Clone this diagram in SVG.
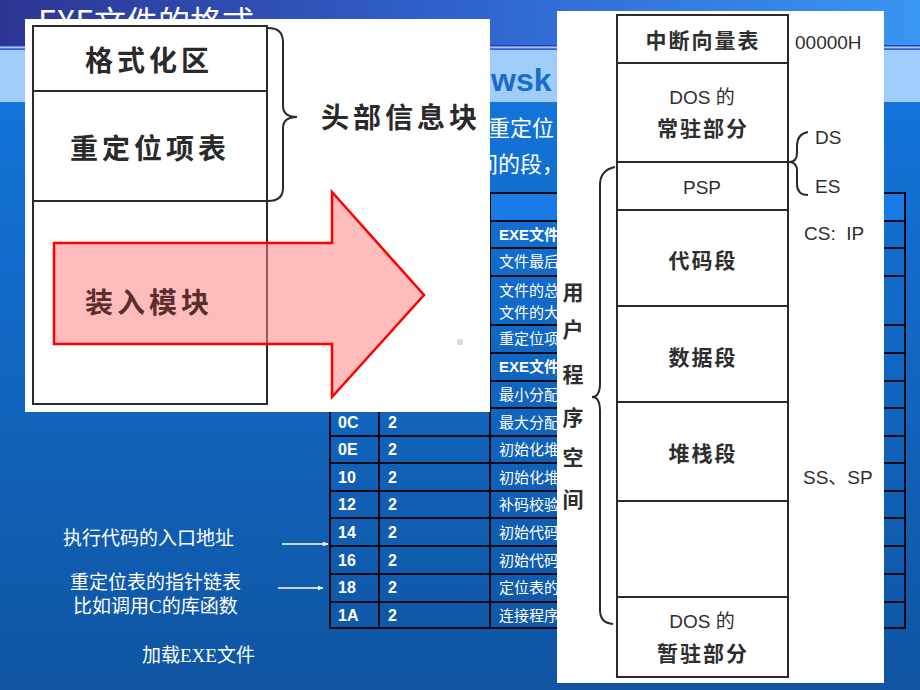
<svg xmlns="http://www.w3.org/2000/svg" width="920" height="690" viewBox="0 0 920 690">
<defs>
<linearGradient id="gTop" x1="0" y1="0" x2="1" y2="0">
<stop offset="0" stop-color="#2d3592"/>
<stop offset="0.5" stop-color="#3063cf"/>
<stop offset="1" stop-color="#3996f0"/>
</linearGradient>
<linearGradient id="gMain" x1="0" y1="0" x2="0" y2="1">
<stop offset="0" stop-color="#1479e3"/>
<stop offset="1" stop-color="#0f55a2"/>
</linearGradient>
<marker id="ah" viewBox="0 0 10 10" refX="9" refY="5" markerWidth="6" markerHeight="6" orient="auto" markerUnits="userSpaceOnUse">
<path d="M0,1 L10,5 L0,9 z" fill="#ffffff"/>
</marker>
<style>
.slide{font-family:"Noto Sans CJK SC","Liberation Sans",sans-serif;fill:#ffffff}
.serif{font-family:"Liberation Serif","Noto Sans CJK SC",serif;fill:#ffffff;font-size:19px}
.tb{fill:none;stroke:#0a0a14;stroke-width:2}
.c1{font-family:"Liberation Sans","Noto Sans CJK SC",sans-serif;font-weight:bold;font-size:16px;fill:#ffffff}
.c3{font-family:"Liberation Sans","Noto Sans CJK SC",sans-serif;font-size:15px;fill:#ffffff}
.c3b{font-family:"Liberation Sans","Noto Sans CJK SC",sans-serif;font-size:15px;font-weight:bold;fill:#ffffff}
.scan{fill:none;stroke:#2a2a2a;stroke-width:2}
.big{font-family:"Noto Sans CJK SC",sans-serif;font-weight:bold;font-size:28px;fill:#2a2a2a;letter-spacing:4px}
.mem{font-family:"Noto Sans CJK SC",sans-serif;font-weight:bold;font-size:21px;fill:#2e2e2e;letter-spacing:2px}
.lat{font-family:"Liberation Sans","Noto Sans CJK SC",sans-serif;font-size:19px;fill:#2e2e2e}
.wl{stroke:#ffffff;stroke-width:1.5;fill:none}
</style>
</defs>

<!-- slide background -->
<rect x="0" y="0" width="920" height="690" fill="url(#gMain)"/>
<rect x="0" y="0" width="920" height="46" fill="url(#gTop)"/>
<rect x="0" y="45" width="920" height="1.5" fill="#2b3bc8"/>
<rect x="0" y="46.5" width="920" height="2" fill="#a8c4f4"/>
<rect x="0" y="48.5" width="920" height="1.5" fill="#3f5fd2"/>
<rect x="0" y="50" width="920" height="52" fill="#9fcefc"/>
<text x="38" y="34" class="slide" font-size="32" fill="#eef2ff">EXE文件的格式</text>
<text x="491" y="91" font-family="Liberation Sans, Arial, sans-serif" font-weight="bold" font-size="32" fill="#1a6cc8">wsk</text>
<text x="488" y="136" class="slide" font-size="22">重定位</text>
<text x="476" y="172" class="slide" font-size="22">间的段，</text>

<!-- table -->
<g id="table">
<rect x="330" y="193" width="575" height="28" fill="#1a7ae8"/>
<g class="tb">
<rect x="330" y="193" width="575" height="435"/>
<line x1="379" y1="193" x2="379" y2="628"/>
<line x1="490" y1="193" x2="490" y2="628"/>
<line x1="330" y1="221" x2="905" y2="221"/>
<line x1="330" y1="248" x2="905" y2="248"/>
<line x1="330" y1="276" x2="905" y2="276"/>
<line x1="330" y1="325" x2="905" y2="325"/>
<line x1="330" y1="353" x2="905" y2="353"/>
<line x1="330" y1="381" x2="905" y2="381"/>
<line x1="330" y1="408" x2="905" y2="408"/>
<line x1="330" y1="436" x2="905" y2="436"/>
<line x1="330" y1="463" x2="905" y2="463"/>
<line x1="330" y1="491" x2="905" y2="491"/>
<line x1="330" y1="518" x2="905" y2="518"/>
<line x1="330" y1="546" x2="905" y2="546"/>
<line x1="330" y1="574" x2="905" y2="574"/>
<line x1="330" y1="602" x2="905" y2="602"/>
</g>
<text x="499" y="240" class="c3b">EXE文件</text>
<text x="499" y="267" class="c3">文件最后</text>
<text x="499" y="296" class="c3">文件的总</text>
<text x="499" y="318" class="c3">文件的大</text>
<text x="499" y="344" class="c3">重定位项</text>
<text x="499" y="372" class="c3b">EXE文件</text>
<text x="499" y="400" class="c3">最小分配</text>
<text x="338" y="428" class="c1">0C</text><text x="388" y="428" class="c1">2</text><text x="499" y="428" class="c3">最大分配</text>
<text x="338" y="455" class="c1">0E</text><text x="388" y="455" class="c1">2</text><text x="499" y="455" class="c3">初始化堆</text>
<text x="338" y="483" class="c1">10</text><text x="388" y="483" class="c1">2</text><text x="499" y="483" class="c3">初始化堆</text>
<text x="338" y="510" class="c1">12</text><text x="388" y="510" class="c1">2</text><text x="499" y="510" class="c3">补码校验</text>
<text x="338" y="538" class="c1">14</text><text x="388" y="538" class="c1">2</text><text x="499" y="538" class="c3">初始代码</text>
<text x="338" y="566" class="c1">16</text><text x="388" y="566" class="c1">2</text><text x="499" y="566" class="c3">初始代码</text>
<text x="338" y="593" class="c1">18</text><text x="388" y="593" class="c1">2</text><text x="499" y="593" class="c3">定位表的</text>
<text x="338" y="621" class="c1">1A</text><text x="388" y="621" class="c1">2</text><text x="499" y="621" class="c3">连接程序</text>
</g>

<!-- notes at bottom left -->
<g id="notes">
<text x="63" y="545" class="serif">执行代码的入口地址</text>
<text x="70" y="589" class="serif">重定位表的指针链表</text>
<text x="73" y="613" class="serif">比如调用C的库函数</text>
<text x="142" y="662" class="serif">加载EXE文件</text>
</g>
<g id="connectors">
<line x1="282" y1="544" x2="328" y2="544" class="wl" marker-end="url(#ah)"/>
<line x1="278" y1="588" x2="323" y2="588" class="wl" marker-end="url(#ah)"/>
</g>

<!-- left white panel: EXE file format -->
<g id="exe-panel">
<rect x="25" y="19" width="465" height="393" fill="#ffffff"/>
<rect x="33" y="26" width="234" height="378" class="scan"/>
<line x1="33" y1="91" x2="267" y2="91" class="scan"/>
<line x1="33" y1="201" x2="267" y2="201" class="scan"/>
<path d="M268,28 Q283,28 283,42 L283,106 Q283,117 297,117 Q283,117 283,128 L283,188 Q283,201 268,201" class="scan"/>
<text x="149" y="71" class="big" text-anchor="middle">格式化区</text>
<text x="150" y="159" class="big" text-anchor="middle">重定位项表</text>
<text x="401" y="128" class="big" text-anchor="middle">头部信息块</text>
<rect x="457" y="339" width="6" height="6" fill="#dddddd"/>
<path d="M54,243 L332,243 L332,192 L424,295 L332,397 L332,344 L54,344 Z" fill="#ff7f7f" fill-opacity="0.52" stroke="#ff0000" stroke-width="2.5" stroke-linejoin="miter"/>
<text x="149" y="313" class="big" text-anchor="middle" fill="#5a2e2e" style="fill:#5a2e2e">装入模块</text>
</g>

<!-- right white panel: memory layout -->
<g id="memory-panel">
<rect x="557" y="11" width="327" height="672" fill="#ffffff"/>
<rect x="617" y="15" width="171" height="662" class="scan"/>
<line x1="617" y1="63" x2="788" y2="63" class="scan"/>
<line x1="617" y1="162" x2="788" y2="162" class="scan"/>
<line x1="617" y1="210" x2="788" y2="210" class="scan"/>
<line x1="617" y1="306" x2="788" y2="306" class="scan"/>
<line x1="617" y1="402" x2="788" y2="402" class="scan"/>
<line x1="617" y1="501" x2="788" y2="501" class="scan"/>
<line x1="617" y1="597" x2="788" y2="597" class="scan"/>
<text x="703" y="48" class="mem" text-anchor="middle">中断向量表</text>
<text x="702" y="104" class="lat" text-anchor="middle">DOS 的</text>
<text x="703" y="136" class="mem" text-anchor="middle">常驻部分</text>
<text x="702" y="194" class="lat" text-anchor="middle">PSP</text>
<text x="703" y="268" class="mem" text-anchor="middle">代码段</text>
<text x="703" y="365" class="mem" text-anchor="middle">数据段</text>
<text x="703" y="461" class="mem" text-anchor="middle">堆栈段</text>
<text x="702" y="628" class="lat" text-anchor="middle">DOS 的</text>
<text x="703" y="661" class="mem" text-anchor="middle">暂驻部分</text>
<text x="795" y="49" class="lat" font-size="18">00000H</text>
<path d="M808,132 Q797,134 797,146 L797,153 Q797,162 789,162 Q797,162 797,171 L797,184 Q797,195 808,195" class="scan" stroke-width="1.8"/>
<text x="815" y="144" class="lat" font-size="18">DS</text>
<text x="815" y="193" class="lat" font-size="18">ES</text>
<text x="804" y="240" class="lat" font-size="18" xml:space="preserve">CS:  IP</text>
<text x="803" y="484" class="lat" font-size="18">SS、SP</text>
<path d="M615,167 Q600,170 600,185 L600,383 Q600,397 592,397 Q600,397 600,411 L600,610 Q600,623 613,624" class="scan" stroke-width="1.8"/>
<g class="mem" text-anchor="middle" font-size="20">
<text x="574" y="300">用</text>
<text x="574" y="337">户</text>
<text x="574" y="382">程</text>
<text x="574" y="425">序</text>
<text x="574" y="465">空</text>
<text x="574" y="507">间</text>
</g>
</g>
</svg>
